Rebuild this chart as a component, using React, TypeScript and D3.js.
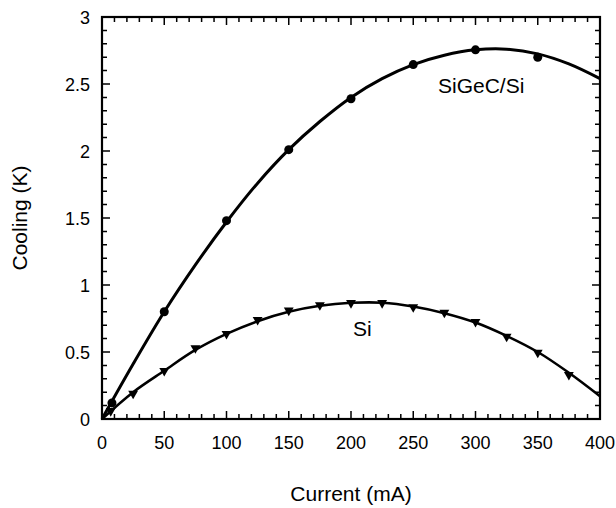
import * as d3 from "d3";
import React from "react";

// fitted curves (current mA, cooling K)
const curveCurrent = [0, 25, 50, 75, 100, 125, 150, 175, 200, 225, 250, 275, 300, 325, 350, 375, 400];
const sigecCurve = [0, 0.41, 0.8, 1.15, 1.47, 1.76, 2.01, 2.22, 2.4, 2.54, 2.645, 2.715, 2.755, 2.76, 2.725, 2.65, 2.54];
const siCurve = [0, 0.2, 0.36, 0.515, 0.635, 0.73, 0.8, 0.845, 0.867, 0.868, 0.84, 0.79, 0.72, 0.62, 0.5, 0.345, 0.17];

// measured points
const sigecCurrent = [8, 50, 100, 150, 200, 250, 300, 350];
const sigecCooling = [0.12, 0.8, 1.48, 2.01, 2.39, 2.645, 2.755, 2.7];
const siCurrent = [7, 25, 50, 75, 100, 125, 150, 175, 200, 225, 250, 275, 300, 325, 350, 375];
const siCooling = [0.06, 0.19, 0.36, 0.53, 0.635, 0.74, 0.81, 0.85, 0.866, 0.866, 0.835, 0.795, 0.725, 0.615, 0.495, 0.33];

const xTicks = [0, 50, 100, 150, 200, 250, 300, 350, 400];
const yTicks = [0, 0.5, 1, 1.5, 2, 2.5, 3];
const yTickLabels = ["0", "0.5", "1", "1.5", "2", "2.5", "3"];

const width = 616;
const height = 508;
const mLeft = 102, mRight = 600, mTop = 17, mBottom = 419;
const font = "'Liberation Sans', Arial, sans-serif";

const App = () => {
    const x = d3.scaleLinear().domain([0, 400]).range([mLeft, mRight]);
    const y = d3.scaleLinear().domain([0, 3]).range([mBottom, mTop]);

    const line = d3.line<number[]>()
        .x((d) => x(d[0]))
        .y((d) => y(d[1]))
        .curve(d3.curveCatmullRom);

    const sigecPath = line(curveCurrent.map((c, i) => [c, sigecCurve[i]])) || "";
    const siPath = line(curveCurrent.map((c, i) => [c, siCurve[i]])) || "";
    const tri = d3.symbol().type(d3.symbolTriangle).size(42)() || "";

    // minor ticks every 10 mA / 0.1 K, major ones longer; all inward on four sides
    const xMinor = d3.range(0, 401, 10);
    const yMinor = d3.range(0, 31, 1).map((v) => v / 10);

    const tickPath = d3.path();
    xMinor.forEach((v) => {
        const len = v % 50 === 0 ? 8 : 5;
        tickPath.moveTo(x(v), mBottom);
        tickPath.lineTo(x(v), mBottom - len);
        tickPath.moveTo(x(v), mTop);
        tickPath.lineTo(x(v), mTop + len);
    });
    yMinor.forEach((v, i) => {
        const len = i % 5 === 0 ? 8 : 5;
        tickPath.moveTo(mLeft, y(v));
        tickPath.lineTo(mLeft + len, y(v));
        tickPath.moveTo(mRight, y(v));
        tickPath.lineTo(mRight - len, y(v));
    });

    return (
        <svg width={width} height={height} style={{ position: "absolute", left: 0, top: 0, background: "#fff" }}>
            <path d={tickPath.toString()} fill="none" stroke="#000" strokeWidth={1.5} />
            <rect x={mLeft} y={mTop} width={mRight - mLeft} height={mBottom - mTop} fill="none" stroke="#000" strokeWidth={2.2} />

            {xTicks.map((d) => (
                <text key={"xl" + d} x={x(d)} y={449} textAnchor="middle" style={{ font: `18px ${font}` }}>{d}</text>
            ))}
            {yTicks.map((d, i) => (
                <text key={"yl" + d} x={90} y={y(d) + 6.5} textAnchor="end" style={{ font: `18px ${font}` }}>{yTickLabels[i]}</text>
            ))}

            <text x={(mLeft + mRight) / 2} y={501} textAnchor="middle" style={{ font: `21px ${font}` }}>Current (mA)</text>
            <text transform={`translate(27, ${(mTop + mBottom) / 2}) rotate(-90)`} textAnchor="middle" style={{ font: `21px ${font}` }}>Cooling (K)</text>

            <path d={sigecPath} fill="none" stroke="#000" strokeWidth={3} />
            <path d={siPath} fill="none" stroke="#000" strokeWidth={2.6} />

            {sigecCurrent.map((d, i) => (
                <circle key={"c" + i} cx={x(d)} cy={y(sigecCooling[i])} r={4.5} fill="#000" />
            ))}
            {siCurrent.map((d, i) => (
                <path key={"t" + i} d={tri} transform={`translate(${x(d)}, ${y(siCooling[i])}) rotate(180)`} fill="#000" />
            ))}

            <text x={438} y={93} style={{ font: `21px ${font}` }}>SiGeC/Si</text>
            <text x={353} y={336} style={{ font: `21px ${font}` }}>Si</text>
        </svg>
    );
};

export default App;
